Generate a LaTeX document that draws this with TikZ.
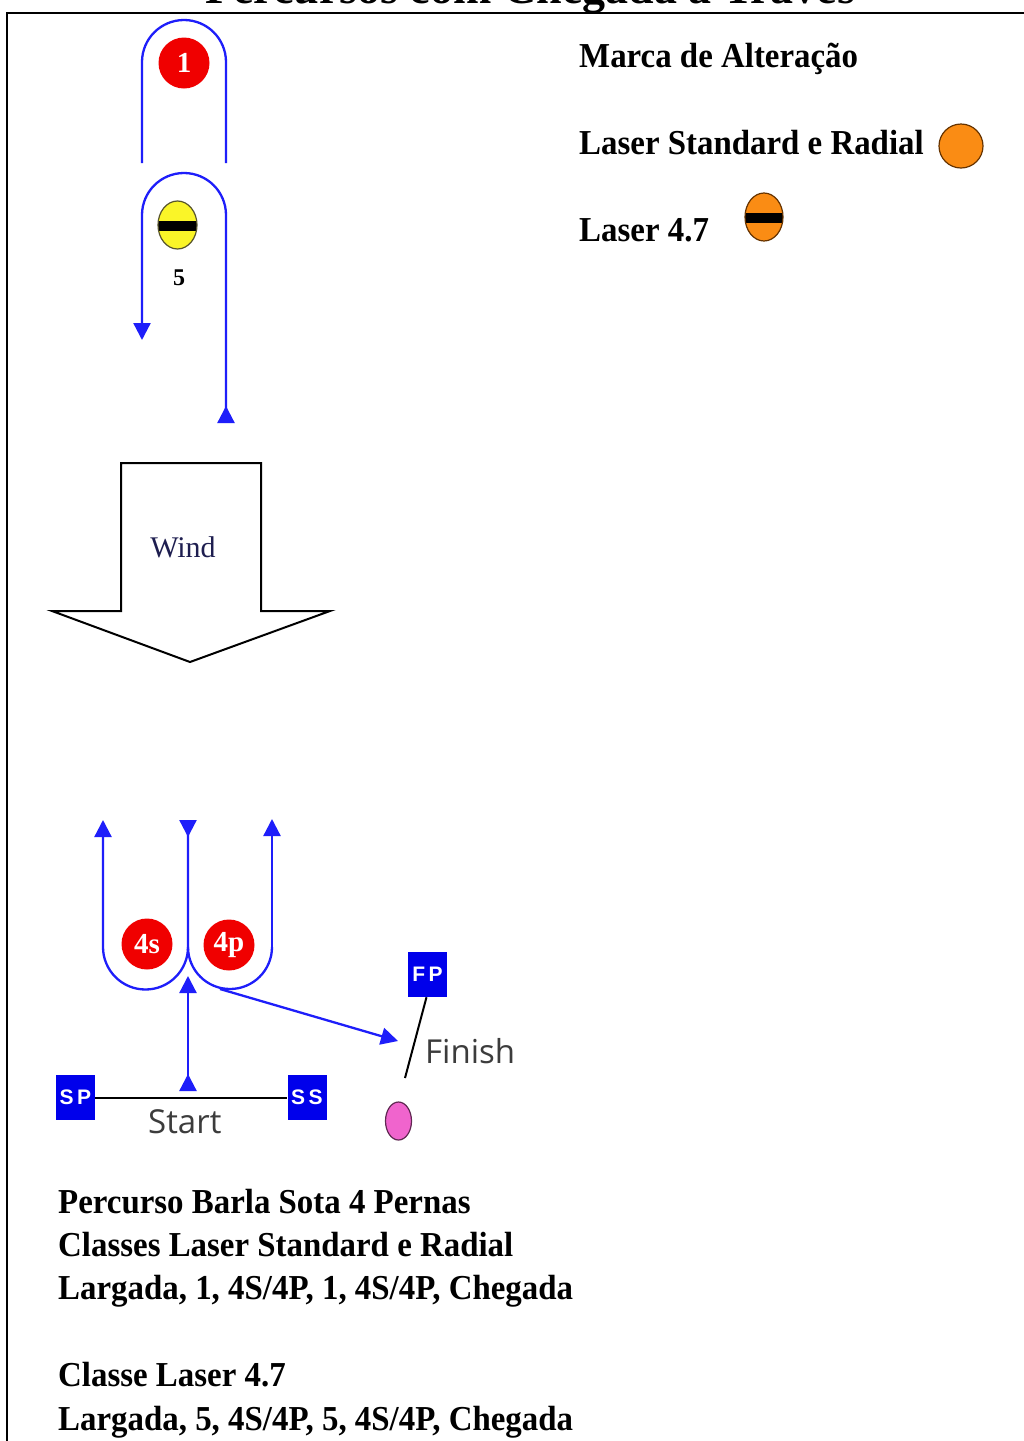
\documentclass[tikz,border=0pt]{standalone}
\usepackage{fontspec}
\setmainfont{Liberation Serif}
\newfontfamily\osans{Open Sans}
\newfontfamily\lsans{Liberation Sans}
\usetikzlibrary{arrows.meta,shapes.geometric,calc}
\definecolor{courseblue}{RGB}{30,30,250}
\definecolor{boxblue}{RGB}{0,0,235}
\definecolor{markred}{RGB}{240,0,0}
\definecolor{markyellow}{RGB}{250,245,40}
\definecolor{markorange}{RGB}{250,140,20}
\definecolor{markpink}{RGB}{240,100,205}
\definecolor{windtext}{RGB}{30,30,80}
\definecolor{labelgray}{RGB}{60,60,60}
\newcommand{\narrowtxt}[1]{\scalebox{0.94}[1]{#1}}
\tikzset{
  course/.style={draw=courseblue, line width=2.3pt},
  fwd/.style={-{Triangle[length=17pt,width=17pt]}},
  rev/.style={{Triangle[length=17pt,width=17pt,reversed]}-},
  both/.style={{Triangle[length=17pt,width=17pt,reversed]}-{Triangle[length=17pt,width=17pt]}},
  redmark/.style={circle, fill=markred, inner sep=0pt, minimum size=51pt, text=white,
    font=\bfseries\fontsize{29}{30}\selectfont},
  bandmark/.style={ellipse, inner sep=0pt, line width=1.2pt,
    path picture={\fill[black] ($(path picture bounding box.west)+(0,-4)$) rectangle ($(path picture bounding box.east)+(0,6)$);}},
  flagbox/.style={rectangle, fill=boxblue, inner sep=0pt, minimum width=39pt, minimum height=45pt,
    text=white, font=\lsans\bfseries\fontsize{21}{22}\selectfont},
  legend/.style={anchor=base west, inner sep=0pt, font=\bfseries\fontsize{35}{38}\selectfont},
  bodytext/.style={anchor=base west, inner sep=0pt, font=\bfseries\fontsize{35}{38}\selectfont},
  sanslabel/.style={anchor=base west, inner sep=0pt, text=labelgray, font=\osans\fontsize{33}{36}\selectfont}
}
\begin{document}
\begin{tikzpicture}[x=1pt,y=-1pt]
\useasboundingbox (0,0) rectangle (1024,1441);
\clip (0,0) rectangle (1024,1441);
% cut-off title
\node[anchor=base west, inner sep=0pt, font=\bfseries\fontsize{46}{50}\selectfont] (title) at (205,3) {Percursos com Chegada a Través};
\fill[white] (0,13) rectangle (1024,1441);
% frame
\draw[line width=2.5pt] (1024,13) -- (7,13) -- (7,1441);

% mark 1 and its rounding
\node[redmark] (m1) at (184,63) {1};
\draw[course] (142,163) -- (142,62) arc[start angle=180, end angle=360, radius=42] -- (226,163);

% mark 5 and its rounding
\node[bandmark, draw=black!50!olive, fill=markyellow, minimum width=39pt, minimum height=48pt] (m5) at (177.5,225) {};
\node[inner sep=0pt, font=\bfseries\fontsize{24}{26}\selectfont] (m5lab) at (179,278) {5};
\draw[course, both] (226,423) -- (226,215) arc[start angle=0, end angle=-180, radius=42] -- (142,340);

% legend
\node[legend] (leg1) at (579,67) {\narrowtxt{Marca de Alteração}};
\node[legend] (leg2) at (579,154) {\narrowtxt{Laser Standard e Radial}};
\node[circle, draw=black!60!orange, line width=1.2pt, fill=markorange, minimum width=44pt, minimum height=42pt, inner sep=0pt] (orange1) at (961,146) {};
\node[legend] (leg3) at (579,241) {\narrowtxt{Laser 4.7}};
\node[bandmark, draw=black!60!orange, fill=markorange, minimum width=38pt, minimum height=48pt] (orange2) at (764,217) {};

% wind arrow
\draw[line width=2pt, line join=miter] (121,463) -- (261,463) -- (261,611) -- (330,611) -- (190,662) -- (52,611) -- (121,611) -- cycle;
\node[anchor=base, inner sep=0pt, text=windtext, font=\fontsize{30}{32}\selectfont] (wind) at (183,557) {Wind};

% gate marks
\node[redmark] (m4s) at (147,944) {4s};
\node[redmark] (m4p) at (229,945) {4p};
\draw[course, both] (188,820) -- (188,947) arc[start angle=0, end angle=180, radius=42.5] -- (103,820);
\draw[course] (188,947) arc[start angle=180, end angle=0, radius=42] -- (272,947);
\draw[course, fwd] (272,947) -- (272,819);
\coordinate (gatebot) at (220,989);
\coordinate (fintip) at (398,1041);
\draw[course, fwd] (gatebot) -- (fintip);

% start line
\node[flagbox] (sp) at (75.5,1097.5) {S\,P};
\node[flagbox] (ss) at (307,1097.5) {S\,S};
\draw[line width=2pt] (sp.east) -- (ss.west);
\coordinate (startbase) at (188,1091);
\coordinate (starttip) at (188,976);
\draw[course, both] (startbase) -- (starttip);
\node[sanslabel] (start) at (148,1133) {Start};

% finish line
\node[flagbox] (fp) at (427.5,974.5) {F\,P};
\coordinate (finend) at (405,1078);
\draw[line width=2pt] ([xshift=-1pt]fp.south) -- (finend);
\node[ellipse, draw=black!60!markpink, line width=1.2pt, fill=markpink, minimum width=26pt, minimum height=38pt, inner sep=0pt] (pink) at (398.5,1121) {};
\node[sanslabel] (finish) at (425,1063) {Finish};

% description
\node[bodytext] (t1) at (58,1213) {\narrowtxt{Percurso Barla Sota 4 Pernas}};
\node[bodytext] (t2) at (58,1256) {\narrowtxt{Classes Laser Standard e Radial}};
\node[bodytext] (t3) at (58,1299) {\narrowtxt{Largada, 1, 4S/4P, 1, 4S/4P, Chegada}};
\node[bodytext] (t4) at (58,1386) {\narrowtxt{Classe Laser 4.7}};
\node[bodytext] (t5) at (58,1430) {\narrowtxt{Largada, 5, 4S/4P, 5, 4S/4P, Chegada}};
\end{tikzpicture}
\end{document}
